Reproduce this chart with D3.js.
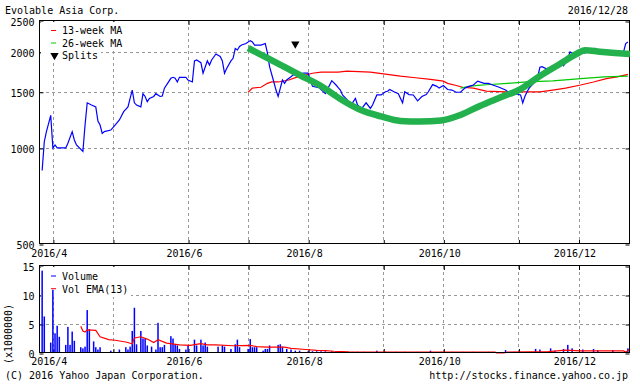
<!DOCTYPE html>
<html>
<head>
<meta charset="utf-8">
<script src="https://cdn.jsdelivr.net/npm/d3@7"></script>
<style>
body { margin: 0; background: #fff; }
text { font-family: "DejaVu Sans Mono", monospace; font-size: 10px; fill: #000; }
</style>
</head>
<body>
<svg id="chart" width="640" height="387"></svg>
<script>
// daily close (month/day of 2016)
const price = [
  ["3/30",850],["3/31",1046],["4/1",1125],["4/3",1265],["4/4",1000],["4/5",1022],["4/6",1000],
  ["4/10",1000],["4/11",1035],["4/13",1125],["4/14",1059],["4/15",1022],["4/18",975],["4/19",1180],
  ["4/20",1385],["4/22",1363],["4/24",1345],["4/25",1215],["4/26",1180],["4/27",1110],["4/28",1125],
  ["5/1",1138],["5/3",1180],["5/5",1224],["5/7",1300],["5/9",1345],["5/10",1430],["5/11",1519],
  ["5/12",1385],["5/13",1363],["5/15",1345],["5/16",1480],["5/17",1450],["5/18",1397],["5/19",1430],
  ["5/21",1450],["5/22",1480],["5/24",1450],["5/25",1455],["5/26",1540],["5/29",1653],["5/30",1665],
  ["5/31",1653],["6/1",1610],["6/2",1665],["6/5",1665],["6/6",1633],["6/8",1610],["6/9",1875],
  ["6/10",1887],["6/12",1850],["6/13",1715],["6/15",1875],["6/16",1820],["6/17",1887],["6/19",1970],
  ["6/21",1935],["6/22",1875],["6/23",1715],["6/24",1775],["6/26",1875],["6/27",1910],["6/28",2050],
  ["6/29",2028],["6/30",2080],["7/1",2102],["7/3",2125],["7/5",2170],["7/6",2150],["7/7",2102],
  ["7/10",2102],["7/12",2125],["7/13",1985],["7/14",1798],["7/16",1610],["7/17",1519],["7/18",1450],
  ["7/20",1633],["7/21",1594],["7/22",1633],["7/25",1693],["7/30",1715],["8/1",1715],["8/2",1633],
  ["8/3",1560],["8/6",1545],["8/9",1480],["8/12",1625],["8/14",1575],["8/15",1545],["8/16",1519],
  ["8/17",1466],["8/20",1397],["8/21",1363],["8/23",1430],["8/24",1363],["8/26",1330],["8/28",1385],
  ["8/30",1330],["8/31",1363],["9/2",1466],["9/4",1466],["9/6",1500],["9/7",1505],["9/8",1525],
  ["9/10",1500],["9/12",1480],["9/14",1385],["9/15",1500],["9/17",1470],["9/19",1466],["9/21",1405],
  ["9/23",1450],["9/25",1470],["9/26",1500],["9/28",1580],["9/30",1560],["10/1",1540],["10/3",1570],
  ["10/5",1525],["10/7",1519],["10/9",1495],["10/11",1495],["10/13",1540],["10/15",1560],["10/17",1575],
  ["10/19",1620],["10/22",1594],["10/24",1594],["10/26",1575],["10/29",1550],["11/1",1519],["11/2",1500],
  ["11/8",1466],["11/9",1385],["11/10",1450],["11/11",1500],["11/12",1540],["11/14",1594],["11/16",1670],
  ["11/17",1790],["11/18",1798],["11/20",1770],["11/22",1790],["11/23",1770],["11/25",1810],["11/27",1850],
  ["11/28",1810],["11/30",1887],["12/1",2000],["12/2",1985],["12/4",1970],["12/8",1985],["12/13",2050],
  ["12/14",2028],["12/18",1990],["12/21",2000],["12/24",2003],["12/26",2000],["12/27",2125],["12/28",2150]
];

const ma13 = [
  ["7/4",1495],["7/6",1540],["7/10",1550],["7/13",1594],["7/15",1610],["7/18",1610],["7/23",1633],
  ["7/27",1670],["8/3",1715],["8/7",1728],["8/15",1728],["8/19",1740],["8/30",1728],["9/6",1705],
  ["9/13",1680],["9/20",1660],["9/27",1640],["10/3",1620],["10/5",1594],["10/9",1570],["10/12",1550],
  ["10/17",1540],["10/23",1508],["11/1",1500],["11/11",1500],["11/17",1500],["11/23",1519],
  ["11/29",1540],["12/6",1575],["12/12",1610],["12/18",1650],["12/23",1670],["12/28",1700]
];

const ma26 = [
  ["10/11",1540],["10/15",1560],["10/19",1572],["10/23",1578],["11/2",1594],["11/11",1610],
  ["11/23",1622],["12/6",1650],["12/17",1670],["12/28",1680]
];

// hand drawn green stroke laid over the chart
const trend = [
  ["7/4",2057],["7/14",1900],["7/28",1693],["8/7",1564],["8/16",1424],["8/25",1320],["9/4",1255],
  ["9/13",1215],["9/22",1210],["10/2",1219],["10/11",1269],["10/20",1354],["10/30",1444],
  ["11/8",1530],["11/17",1681],["11/27",1846],["12/4",1970],["12/8",2025],["12/15",2003],
  ["12/22",1985],["12/29",1970]
];

const splits = ["7/26"];

// volume in millions
const volume = [
  ["3/30",14.2],["3/31",6.3],["4/3",1.8],["4/4",10.9],["4/5",3.4],["4/6",4.7],["4/7",2.8],
  ["4/10",1.4],["4/11",4.5],["4/12",1.4],["4/13",3.7],["4/14",2.1],["4/17",1.0],["4/18",0.8],
  ["4/19",1.1],["4/20",7.4],["4/21",4.1],["4/23",2.0],["4/24",1.0],["4/25",0.6],["4/26",1.0],
  ["5/1",0.4],["5/5",0.6],["5/8",1.0],["5/9",0.6],["5/10",1.1],["5/11",3.8],["5/12",7.8],
  ["5/13",1.5],["5/15",3.8],["5/16",2.5],["5/17",2.5],["5/18",1.3],["5/20",1.1],["5/22",0.6],
  ["5/23",5.2],["5/24",1.0],["5/25",1.0],["5/26",1.4],["5/29",2.9],["5/30",2.5],["5/31",1.5],
  ["6/1",1.3],["6/2",0.7],["6/5",0.6],["6/6",1.3],["6/9",2.3],["6/10",1.3],["6/12",2.3],
  ["6/13",1.3],["6/14",1.8],["6/15",1.1],["6/20",1.1],["6/22",1.3],["6/23",1.1],["6/26",0.7],
  ["6/28",1.5],["6/29",2.3],["6/30",1.0],["7/4",0.7],["7/5",2.4],["7/6",1.0],["7/7",1.0],
  ["7/8",1.0],["7/11",0.4],["7/12",0.7],["7/13",0.7],["7/14",1.3],["7/18",1.4],["7/19",1.5],
  ["7/20",1.1],["7/22",0.7],["7/24",0.6],["7/26",0.4],["7/28",0.4],["8/1",0.3],["8/3",0.3],
  ["8/5",0.3],["8/7",0.3],["8/9",0.3],["8/12",0.3],["8/14",0.3],["8/16",0.3],["8/18",0.2],
  ["8/22",0.2],["8/24",0.2],["8/27",0.2],["9/2",0.4],["9/6",0.2],["9/11",0.2],["9/15",0.2],
  ["9/21",0.2],["9/27",0.4],["10/2",0.2],["10/7",0.2],["10/12",0.2],["10/17",0.2],["10/24",0.2],
  ["11/1",0.5],["11/5",0.2],["11/8",0.2],["11/15",0.7],["11/17",0.6],["11/22",0.8],["11/24",0.4],
  ["11/28",0.7],["11/30",1.4],["12/2",0.8],["12/7",0.6],["12/12",0.7],["12/14",0.5],["12/21",0.5],
  ["12/28",0.8]
];

const volEma = [
  ["4/17",4.6],["4/18",3.8],["4/19",3.6],["4/20",4.0],["4/24",3.9],["4/26",2.8],["4/30",2.3],
  ["5/3",2.2],["5/8",1.9],["5/11",1.6],["5/12",2.6],["5/15",2.8],["5/18",2.4],["5/21",1.8],
  ["5/23",2.3],["5/27",1.7],["6/2",1.4],["6/7",1.3],["6/12",1.6],["6/15",1.4],["6/19",1.4],
  ["6/27",1.25],["7/5",1.3],["7/8",1.1],["7/13",1.0],["7/21",1.0],["7/24",0.8],["7/31",0.6],
  ["8/5",0.45],["8/9",0.4],["8/13",0.3],["8/20",0.2],["10/2",0.15],["10/27",0.15],["10/28",0.02],
  ["10/31",0.02],["11/2",0.15],["11/21",0.25],["11/29",0.5],["12/6",0.35],["12/26",0.35],
  ["12/27",0.15],["12/29",0.7]
];

const priceTicks = [500, 1000, 1500, 2000, 2500];
const volTicks = [0, 5, 10, 15];
const monthTicks = ["4/4","5/2","6/6","7/4","8/1","9/5","10/3","11/7","12/5"];
const monthLabels = ["2016/4","","2016/6","","2016/8","","2016/10","","2016/12"];

const parse = s => d3.timeParse("%Y/%m/%d")("2016/" + s);
const svg = d3.select("#chart");
const left = 40, right = 630;

const x = d3.scaleTime().domain([parse("3/29"), parse("12/29")]).range([left, right]);
const y = d3.scaleLog().domain([500, 2500]).range([244, 21]);
const yv = d3.scaleLinear().domain([0, 15]).range([353, 266]);
const tickDates = monthTicks.map(parse);
const px = v => Math.round(v) + 0.5;

function grid(yScale, vals, top, bottom) {
  const g = svg.append("g").attr("stroke", "#999").attr("stroke-dasharray", "3,3");
  g.selectAll("line.h").data(vals).enter().append("line").attr("class", "h")
    .attr("x1", left).attr("x2", right)
    .attr("y1", d => px(yScale(d))).attr("y2", d => px(yScale(d)));
  g.selectAll("line.v").data(tickDates).enter().append("line").attr("class", "v")
    .attr("x1", d => px(x(d))).attr("x2", d => px(x(d)))
    .attr("y1", top).attr("y2", bottom);
}

function axes(yScale, vals, top, bottom, labelPad, labelDy) {
  const fmt = (d, i) => monthLabels[i];
  const la = svg.append("g").attr("transform", `translate(${left - 0.5},0.5)`)
    .call(d3.axisLeft(yScale).tickValues(vals).tickSize(-4).tickPadding(5).tickFormat(d3.format("d")));
  la.selectAll("text").attr("dy", labelDy);
  svg.append("g").attr("transform", `translate(${right - 0.5},0.5)`)
    .call(d3.axisRight(yScale).tickValues(vals).tickSize(-4).tickFormat(""));
  const ba = svg.append("g").attr("transform", `translate(0.5,${bottom})`)
    .call(d3.axisBottom(x).tickValues(tickDates).tickSize(-4).tickPadding(labelPad).tickFormat(fmt));
  ba.selectAll("text").attr("dx", -4.6);
  svg.append("g").attr("transform", `translate(0.5,${top})`)
    .call(d3.axisTop(x).tickValues(tickDates).tickSize(-4).tickFormat(""));
  svg.selectAll(".domain").remove();
  svg.selectAll(".tick line").attr("stroke", "#000");
  svg.selectAll(".tick text").style("font-family", "DejaVu Sans Mono").style("font-size", "10px");
}

function frame(top, bottom) {
  svg.append("rect").attr("x", left - 0.5).attr("y", top - 0.5)
    .attr("width", right - left).attr("height", bottom - top)
    .attr("fill", "none").attr("stroke", "#000");
}

// white boxes behind legend rows
function legendBg(rows) {
  svg.selectAll(null).data(rows).enter().append("rect")
    .attr("x", 41).attr("y", d => d[0]).attr("width", d => d[2]).attr("height", d => d[1] - d[0])
    .attr("fill", "#fff");
}

const line = yScale => d3.line().x(d => x(parse(d[0]))).y(d => yScale(d[1]));
const tri = d3.symbol().type(d3.symbolTriangle).size(30);

// price panel
grid(y, [1000, 1500, 2000], 21, 244);
axes(y, priceTicks, 21, 244, 5.4, "0.42em");

svg.append("path").datum(ma13).attr("d", line(y))
  .attr("fill", "none").attr("stroke", "#ff0000").attr("stroke-width", 1.2);
svg.append("path").datum(ma26).attr("d", line(y))
  .attr("fill", "none").attr("stroke", "#00c800").attr("stroke-width", 1.2);

legendBg([[22, 37, 82], [37, 49.5, 82], [49.5, 62, 60]]);

svg.append("path").datum(price).attr("d", line(y))
  .attr("fill", "none").attr("stroke", "#0000ff").attr("stroke-width", 1.2);

svg.selectAll("path.split").data(splits).enter().append("path").attr("class", "split")
  .attr("d", tri)
  .attr("transform", d => `translate(${x(parse(d))},${y(2500) + 23}) rotate(180)`);

frame(21, 244);

// main legend
const lg = [["13-week MA", "#ff0000"], ["26-week MA", "#00c800"]];
lg.forEach((d, i) => {
  svg.append("line").attr("x1", 51).attr("x2", 56).attr("y1", 30.5 + i * 12.5).attr("y2", 30.5 + i * 12.5)
    .attr("stroke", d[1]);
  svg.append("text").attr("x", 62).attr("y", 34 + i * 12.5).text(d[0]);
});
svg.append("path").attr("d", tri).attr("transform", "translate(54.5,55.5) rotate(180)");
svg.append("text").attr("x", 62).attr("y", 59).text("Splits");

// volume panel
grid(yv, [5, 10], 266, 353);
axes(yv, volTicks, 266, 353, 4.8, "0.36em");
legendBg([[267, 283, 90], [283, 297, 90]]);

svg.selectAll("rect.vol").data(volume).enter().append("rect").attr("class", "vol")
  .attr("x", d => x(parse(d[0])) - 0.75)
  .attr("width", 1.5)
  .attr("y", d => yv(d[1]))
  .attr("height", d => yv(0) - yv(d[1]))
  .attr("fill", "#0000ff");

svg.append("path").datum(volEma).attr("d", line(yv))
  .attr("fill", "none").attr("stroke", "#ff0000").attr("stroke-width", 1.2);

frame(266, 353);

const vl = [["Volume", "#0000ff"], ["Vol EMA(13)", "#ff0000"]];
vl.forEach((d, i) => {
  svg.append("line").attr("x1", 51).attr("x2", 56).attr("y1", 276 + i * 12.7).attr("y2", 276 + i * 12.7)
    .attr("stroke", d[1]);
  svg.append("text").attr("x", 62).attr("y", 280 + i * 12.7).text(d[0]);
});

svg.append("text").attr("transform", "translate(11.5,334) rotate(-90)")
  .attr("text-anchor", "middle").text("(x1000000)");

// overlay stroke
svg.append("path").datum(trend).attr("d", line(y).curve(d3.curveMonotoneX))
  .attr("fill", "none").attr("stroke", "#22b14c").attr("stroke-width", 6.5)
  .attr("stroke-linejoin", "round");

// titles
svg.append("text").attr("x", 5).attr("y", 14).text("Evolable Asia Corp.");
svg.append("text").attr("x", 628).attr("y", 14).attr("text-anchor", "end").text("2016/12/28");
svg.append("text").attr("x", 5).attr("y", 378.5).text("(C) 2016 Yahoo Japan Corporation.");
svg.append("text").attr("x", 628).attr("y", 378.5).attr("text-anchor", "end")
  .text("http://stocks.finance.yahoo.co.jp");
</script>
</body>
</html>
